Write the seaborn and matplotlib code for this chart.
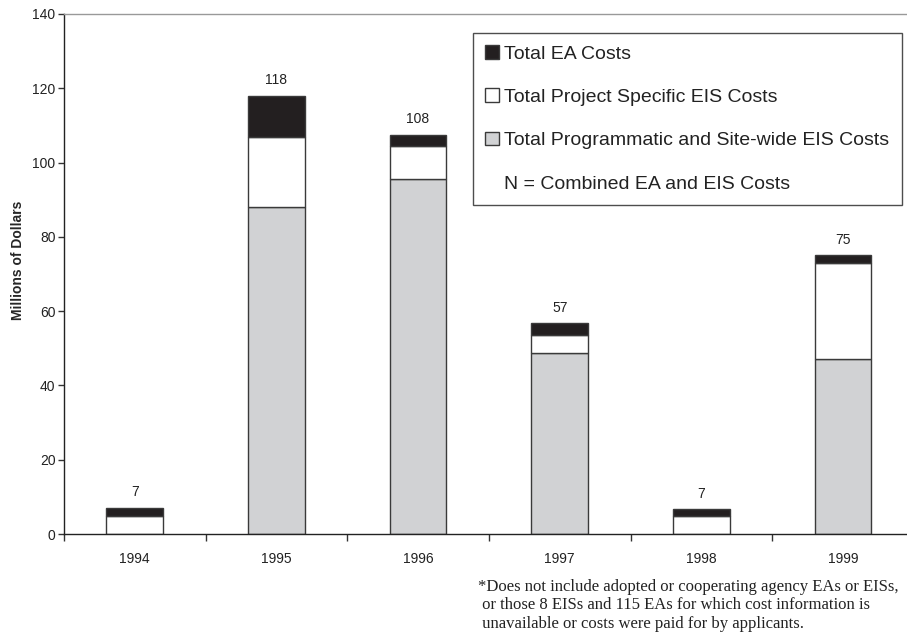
import numpy as np
import pandas as pd
import seaborn as sns
import matplotlib.pyplot as plt
from matplotlib.patches import Patch

# Values (millions of dollars)
years = ['1994', '1995', '1996', '1997', '1998', '1999']
programmatic = [0.0, 88.0, 95.5, 48.6, 0.0, 47.0]
project_specific = [4.9, 19.0, 9.0, 5.0, 4.9, 26.0]
ea_costs = [2.2, 11.0, 3.0, 3.1, 1.8, 2.1]
totals_label = [7, 118, 108, 57, 7, 75]

df = pd.DataFrame({'year': years,
                   'prog': programmatic,
                   'proj': project_specific,
                   'ea': ea_costs})
df['proj_bottom'] = df['prog']
df['ea_bottom'] = df['prog'] + df['proj']

sns.set_style("white")
plt.rcParams['font.family'] = ['Liberation Sans', 'DejaVu Sans']

gray = '#d1d2d4'
black = '#231f20'
edge = '#3a3a3a'

fig = plt.figure(figsize=(9.07, 6.35), dpi=100)
ax = fig.add_axes([0.0705, 0.159, 0.937, 0.819])

# Stacked bars
sns.barplot(data=df, x='year', y='prog', color=gray, edgecolor=edge,
            linewidth=1, width=0.4, saturation=1, ax=ax)
sns.barplot(data=df, x='year', y='proj', bottom=df['proj_bottom'], color='white',
            edgecolor=edge, linewidth=1, width=0.4, saturation=1, ax=ax)
sns.barplot(data=df, x='year', y='ea', bottom=df['ea_bottom'], color=black,
            edgecolor=edge, linewidth=1, width=0.4, saturation=1, ax=ax)

# Total labels above bars
tops = df['ea_bottom'] + df['ea']
for i, (t, lab) in enumerate(zip(tops, totals_label)):
    ax.text(i, t + 2.3, str(lab), ha='center', va='bottom', fontsize=10, color='#222')

ax.set_xlim(-0.5, 5.5)
ax.set_ylim(0, 140)
ax.set_yticks(np.arange(0, 141, 20))
ax.set_xlabel('')
ax.set_ylabel('Millions of Dollars', fontsize=10, fontweight='bold')
ax.yaxis.set_label_coords(-0.046, 0.527)

# Category boundary ticks (Excel style)
ax.set_xticks(np.arange(len(years)))
ax.set_xticklabels(years)
ax.set_xticks(np.arange(-0.5, len(years)), minor=True)
ax.tick_params(axis='x', which='major', length=0, pad=13, labelsize=10, colors='#222')
ax.tick_params(axis='x', which='minor', length=5, width=1, color='#333', direction='out')
ax.tick_params(axis='y', length=4, width=1, color='#333', direction='out', labelsize=10,
               labelcolor='#222', pad=2)
ax.tick_params(bottom=True, left=True, which='both')

for s in ['left', 'bottom']:
    ax.spines[s].set_color('#222')
    ax.spines[s].set_linewidth(1)
ax.spines['top'].set_color('#999999')
ax.spines['top'].set_linewidth(1)
ax.spines['right'].set_visible(False)

# Legend
handles = [Patch(facecolor=black, edgecolor=edge, label='Total EA Costs'),
           Patch(facecolor='white', edgecolor=edge, label='Total Project Specific EIS Costs'),
           Patch(facecolor=gray, edgecolor=edge, label='Total Programmatic and Site-wide EIS Costs'),
           Patch(facecolor='none', edgecolor='none', label='N = Combined EA and EIS Costs')]
leg = fig.legend(handles=handles, loc='upper left', bbox_to_anchor=(473 / 907, 1 - 33 / 635),
                 bbox_transform=fig.transFigure, fontsize=14, frameon=True, fancybox=False,
                 handlelength=0.7, handleheight=0.7, handletextpad=0.3,
                 labelspacing=1.32, borderpad=0.62, borderaxespad=0)
leg.get_frame().set_edgecolor('#222')
leg.get_frame().set_linewidth(1)
for t in leg.get_texts():
    t.set_color('#222')

# Footnote
fig.text(478 / 907, 1 - 579 / 635,
         '*Does not include adopted or cooperating agency EAs or EISs,\n'
         ' or those 8 EISs and 115 EAs for which cost information is\n'
         ' unavailable or costs were paid for by applicants.',
         ha='left', va='top', fontsize=12, family=['Liberation Serif', 'DejaVu Serif'],
         color='#222', linespacing=1.2)

plt.savefig('out.png', dpi=100)
